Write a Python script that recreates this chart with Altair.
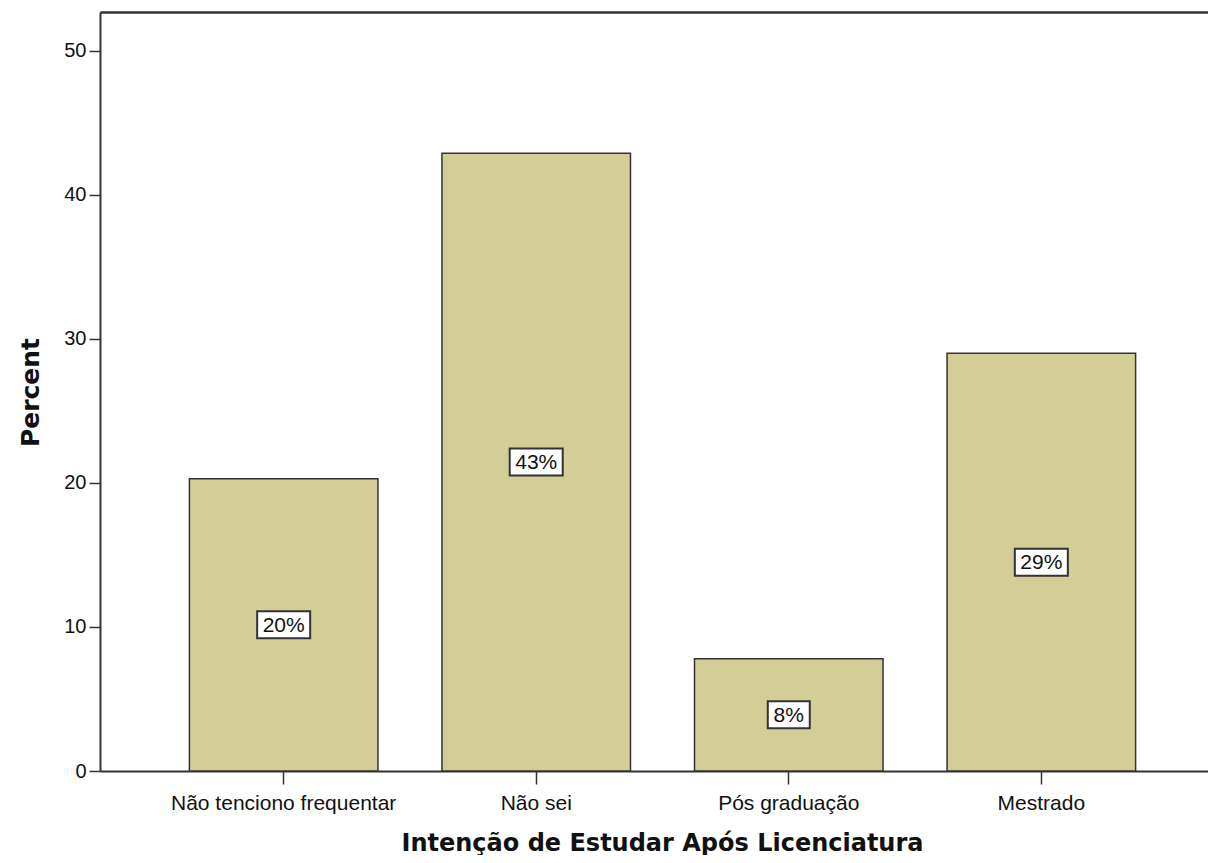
import altair as alt
import pandas as pd

categories = ["Não tenciono frequentar", "Não sei", "Pós graduação", "Mestrado"]
percents = [20.3, 42.9, 7.8, 29.0]
bar_labels = ["20%", "43%", "8%", "29%"]

df = pd.DataFrame({"cat": categories, "pct": percents, "lab": bar_labels})

BAR_FILL = "#D3CE97"
DARK = "#333333"
YDOM = [0, 52.7]

xscale = alt.Scale(domain=categories, range=[0, 1125], paddingInner=0.2535, paddingOuter=0.354)
yscale = alt.Scale(domain=YDOM, nice=False, zero=True)

base = alt.Chart(df)

bars = base.mark_bar(fill=BAR_FILL, stroke=DARK, strokeWidth=1.5).encode(
    x=alt.X("cat:N", sort=categories, scale=xscale,
            axis=alt.Axis(title="Intenção de Estudar Após Licenciatura", labelAngle=0,
                          labelFont="Liberation Sans", labelFontSize=21, labelColor="#111",
                          labelLimit=0,
                          labelPadding=8, tickSize=13, tickColor=DARK, tickWidth=1.5,
                          domainColor=DARK, domainWidth=2,
                          titleFont="DejaVu Sans", titleFontSize=24, titleFontWeight="bold",
                          titleColor="#111", titleX=562, titleY=79, titleAlign="center",
                          titleBaseline="alphabetic")),
    y=alt.Y("pct:Q", scale=yscale,
            axis=alt.Axis(title="Percent", values=[0, 10, 20, 30, 40, 50], grid=False,
                          labelFont="Liberation Sans", labelFontSize=20, labelColor="#111",
                          labelPadding=3, tickSize=11, tickColor=DARK, tickWidth=1.5,
                          domainColor=DARK, domainWidth=2,
                          titleFont="DejaVu Sans", titleFontSize=25, titleFontWeight="bold",
                          titleColor="#111", titleX=-62, titleY=380, titleAngle=270,
                          titleAlign="center", titleBaseline="alphabetic")),
)

boxes = base.transform_calculate(
    mid="datum.pct / 2",
    hw="(11 * length(datum.lab) + 20) / 2",
    shp="'M' + (-datum.hw) + ',-13.5H' + datum.hw + 'V13.5H' + (-datum.hw) + 'Z'",
).mark_point(filled=True, fill="white", stroke=DARK, strokeWidth=2, size=4, opacity=1).encode(
    x=alt.X("cat:N", sort=categories, scale=xscale,
            axis=alt.Axis(orient="top", labels=False, ticks=False, title=None,
                          domainColor=DARK, domainWidth=2.5)),
    y=alt.Y("mid:Q", scale=yscale, axis=None),
    shape=alt.Shape("shp:N", scale=None, legend=None),
)

texts = base.transform_calculate(mid="datum.pct / 2").mark_text(
    font="Liberation Sans", fontSize=21, color="#111", baseline="middle", align="center", dy=1
).encode(
    x=alt.X("cat:N", sort=categories, scale=xscale, axis=None),
    y=alt.Y("mid:Q", scale=yscale, axis=None),
    text="lab:N",
)

chart = alt.layer(bars, boxes, texts).resolve_axis(x="independent", y="independent").properties(
    width=1108,
    height=759,
    title=alt.TitleParams("Sexo: Masculino", font="DejaVu Sans", fontSize=22, fontWeight="bold",
                          color="#333", anchor="middle", dx=-44, offset=8, baseline="alphabetic"),
    autosize=alt.AutoSizeParams(type="none"),
    padding={"left": 92, "top": 4, "right": 0, "bottom": 84},
).configure_view(fill="#EFEFEF", stroke=None).configure(background="white")

chart.save("out.html", embed_options={"renderer": "svg", "actions": False})
